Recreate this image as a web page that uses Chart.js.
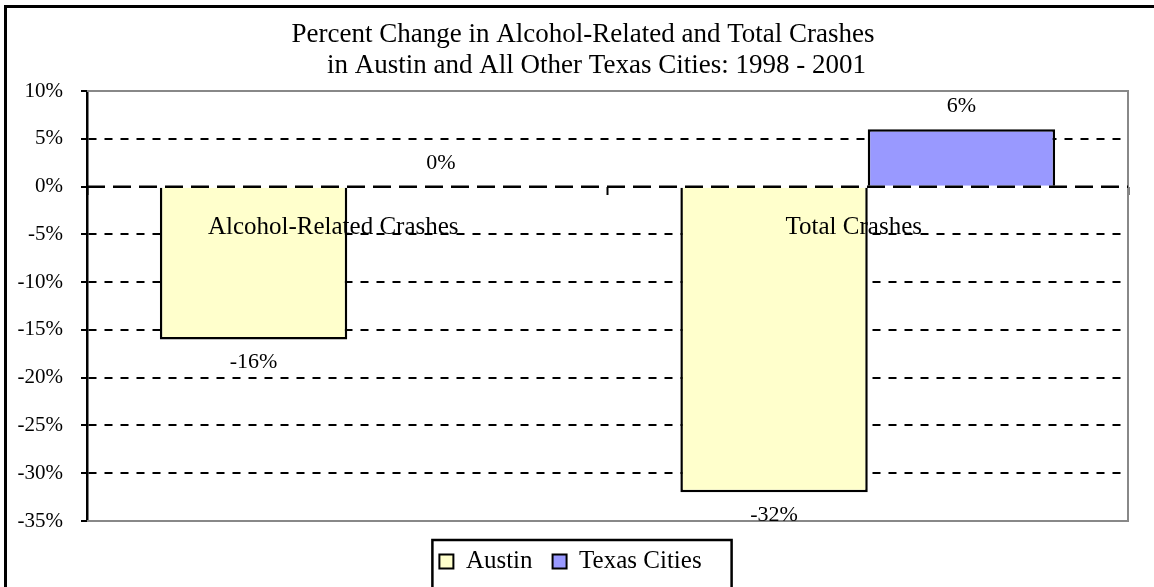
<!DOCTYPE html>
<html>
<head>
<meta charset="utf-8">
<script src="https://cdn.jsdelivr.net/npm/chart.js@4.4.0/dist/chart.umd.min.js"></script>
<style>
  html, body { margin: 0; padding: 0; background: #fff; overflow: hidden; }
  #wrap { width: 1154px; height: 587px; }
</style>
</head>
<body>
<div id="wrap"><canvas id="crashChart" width="1154" height="587"></canvas></div>
<script>
var categories = ["Alcohol-Related Crashes", "Total Crashes"];
var austinValues = [-16, -32];
var texasValues = [0, 6];
var yTicks = [10, 5, 0, -5, -10, -15, -20, -25, -30, -35];

Chart.defaults.font.family = "'Liberation Serif', 'Times New Roman', serif";
Chart.defaults.color = "#000";

var legendPad = "    "; // trailing room so the legend sits a bit left of centre

// outer frame, gray plot frame, dashed zero line, value labels, legend box
var chartDecor = {
  id: "chartDecor",
  beforeDraw: function (chart) {
    var ctx = chart.ctx;
    ctx.save();
    ctx.fillStyle = "#fff";
    ctx.fillRect(0, 0, chart.width, chart.height);
    ctx.strokeStyle = "#000";
    ctx.lineWidth = 3;
    ctx.strokeRect(5.5, 6.5, 1300, 800);
    ctx.restore();
  },
  beforeDatasetsDraw: function (chart) {
    var ctx = chart.ctx, a = chart.chartArea;
    ctx.save();
    ctx.strokeStyle = "#888";
    ctx.lineWidth = 2;
    ctx.beginPath();
    ctx.moveTo(a.left, a.top);
    ctx.lineTo(a.right, a.top);
    ctx.lineTo(a.right, a.bottom);
    ctx.lineTo(a.left, a.bottom);
    ctx.stroke();
    ctx.restore();
  },
  afterDatasetsDraw: function (chart) {
    var ctx = chart.ctx, a = chart.chartArea;
    var y0 = chart.scales.y.getPixelForValue(0);
    ctx.save();
    ctx.strokeStyle = "#000";
    ctx.lineWidth = 2.5;
    ctx.setLineDash([18, 8]);
    ctx.beginPath();
    ctx.moveTo(a.left, y0);
    ctx.lineTo(a.right, y0);
    ctx.stroke();
    ctx.setLineDash([]);

    ctx.font = "22px 'Liberation Serif'";
    ctx.fillStyle = "#000";
    ctx.textAlign = "center";
    ctx.textBaseline = "middle";
    chart.data.datasets.forEach(function (ds, i) {
      chart.getDatasetMeta(i).data.forEach(function (bar, j) {
        var v = ds.data[j];
        var ty = v < 0 ? bar.y + 23 : bar.y - 23;
        ctx.fillText(v + "%", bar.x, ty);
      });
    });
    ctx.restore();
  },
  afterDraw: function (chart) {
    var boxes = chart.legend.legendHitBoxes;
    if (!boxes || !boxes.length) return;
    var ctx = chart.ctx;
    ctx.save();
    ctx.font = "25px 'Liberation Serif'";
    var padW = ctx.measureText(legendPad).width;
    var first = boxes[0], last = boxes[boxes.length - 1];
    var x1 = first.left - 7, y1 = first.top - 9;
    var x2 = last.left + last.width - padW + 30;
    ctx.strokeStyle = "#000";
    ctx.lineWidth = 2.5;
    ctx.strokeRect(x1, y1, x2 - x1, 200);
    ctx.restore();
  }
};

new Chart(document.getElementById("crashChart"), {
  type: "bar",
  data: {
    labels: categories,
    datasets: [
      {
        label: "Austin",
        data: austinValues,
        backgroundColor: "#FFFFCC",
        borderColor: "#000",
        borderWidth: 2.5
      },
      {
        label: "Texas Cities",
        data: texasValues,
        backgroundColor: "#9999FF",
        borderColor: "#000",
        borderWidth: 2.5
      }
    ]
  },
  options: {
    responsive: false,
    animation: false,
    layout: { padding: { left: 12, right: 0, top: 0, bottom: 3 } },
    datasets: { bar: { categoryPercentage: 0.72, barPercentage: 1.0 } },
    plugins: {
      tooltip: { enabled: false },
      title: {
        display: true,
        text: [
          "Percent Change in Alcohol-Related and Total Crashes",
          "    in Austin and All Other Texas Cities: 1998 - 2001"
        ],
        color: "#000",
        font: { size: 27, weight: "normal", lineHeight: 1.15 },
        padding: { top: 19, bottom: 10 }
      },
      legend: {
        position: "bottom",
        title: { display: true, text: " ", font: { size: 2, lineHeight: 1 }, padding: { top: 6, bottom: 0 } },
        labels: {
          boxWidth: 14,
          boxHeight: 14,
          padding: 20,
          color: "#000",
          font: { size: 25 },
          generateLabels: function (chart) {
            var n = chart.data.datasets.length;
            return chart.data.datasets.map(function (ds, i) {
              return {
                text: i === n - 1 ? ds.label + legendPad : ds.label,
                fillStyle: ds.backgroundColor,
                strokeStyle: "#000",
                lineWidth: 2,
                datasetIndex: i,
                fontColor: "#000"
              };
            });
          }
        }
      }
    },
    scales: {
      x: {
        position: { y: 0 },
        border: { display: false },
        grid: {
          offset: true,
          drawOnChartArea: false,
          drawTicks: true,
          tickLength: 8,
          tickWidth: 2,
          tickColor: "#000",
          color: "#000"
        },
        ticks: { z: 1, color: "#000", padding: 18, labelOffset: -14, font: { size: 25 }, maxRotation: 0 }
      },
      y: {
        min: -35,
        max: 10,
        afterFit: function (s) { s.width = 75; },
        afterBuildTicks: function (s) {
          s.ticks = yTicks.map(function (v) { return { value: v }; });
        },
        border: { display: true, color: "#000", width: 2.5, dash: [8, 8] },
        grid: {
          lineWidth: 2,
          color: function (c) {
            var v = c.tick ? c.tick.value : null;
            return (v === 10 || v === -35 || v === 0) ? "rgba(0,0,0,0)" : "#000";
          },
          tickColor: "#000",
          tickLength: 6,
          tickWidth: 2
        },
        ticks: {
          color: "#000",
          padding: 18,
          font: { size: 21 },
          callback: function (v) { return v + "%"; }
        }
      },
      yRight: {
        type: "linear",
        position: "right",
        display: true,
        afterFit: function (s) { s.width = 26; },
        ticks: { display: false },
        grid: { display: false, drawTicks: false },
        border: { display: false }
      }
    }
  },
  plugins: [chartDecor]
});
</script>
</body>
</html>
